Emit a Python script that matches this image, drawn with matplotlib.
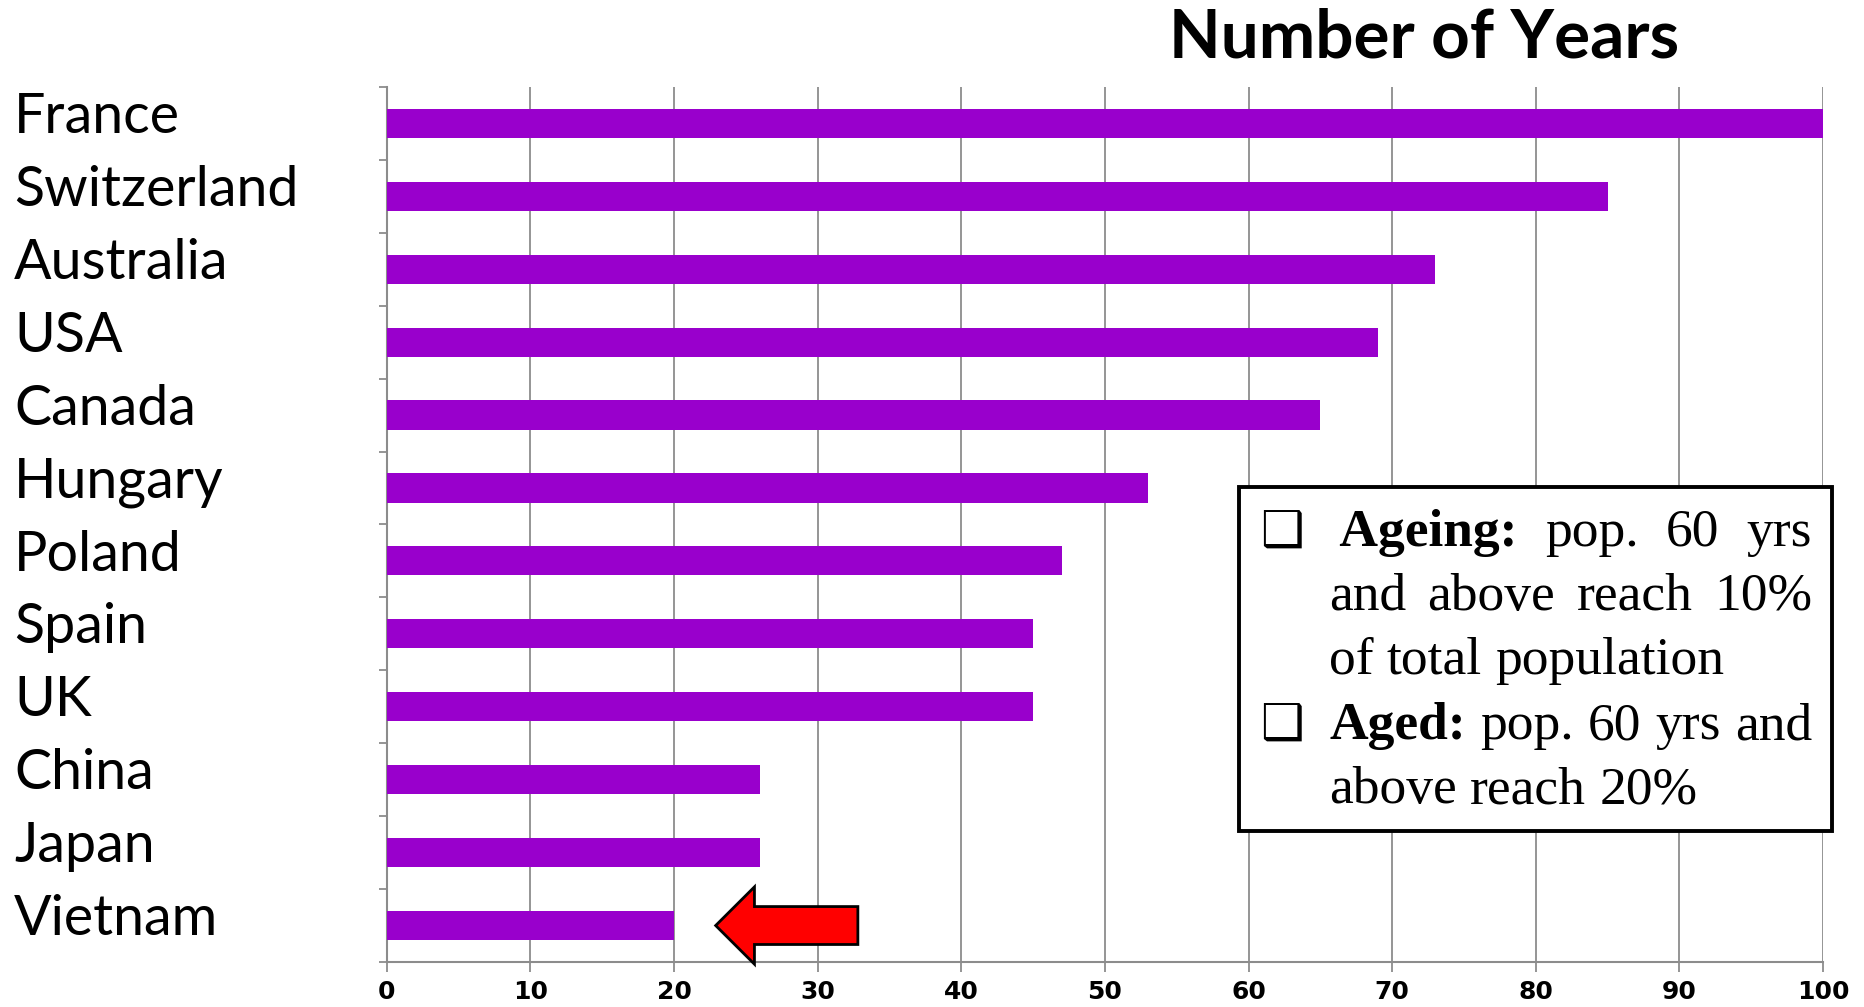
import numpy as np
import matplotlib
matplotlib.use("Agg")
import matplotlib.pyplot as plt
from matplotlib.patches import Polygon, Rectangle
from matplotlib.ticker import MultipleLocator, FixedLocator

countries = ["France", "Switzerland", "Australia", "USA", "Canada", "Hungary",
             "Poland", "Spain", "UK", "China", "Japan", "Vietnam"]
years = [100, 85, 73, 69, 65, 53, 47, 45, 45, 26, 26, 20]
x_ticks = [0, 10, 20, 30, 40, 50, 60, 70, 80, 90, 100]

title = "Number of Years"
note_lines = [
    # (pieces, justify, has_box)
    ([(" Ageing:", True), ("pop.", False), ("60", False), ("yrs", False)], True, True),
    ([("and", False), ("above", False), ("reach", False), ("10%", False)], True, False),
    ([("of", False), ("total", False), ("population", False)], False, False),
    ([("Aged:", True), ("pop.", False), ("60", False), ("yrs", False), ("and", False)], True, True),
    ([("above", False), ("reach", False), ("20%", False)], False, False),
]

BAR = "#9900cc"
GRID = "#8c8c8c"

W, H = 1864, 1007
fig = plt.figure(figsize=(W / 100, H / 100), dpi=100)
ax = fig.add_axes([0.2075, 0.0447, 0.7705, 0.869])

ypos = np.arange(len(countries))
ax.barh(ypos, years, height=0.4, color=BAR, zorder=3)

ax.set_xlim(0, 100)
ax.set_ylim(len(countries) - 0.5, -0.5)
ax.xaxis.set_major_locator(FixedLocator(x_ticks))
ax.set_xticklabels([str(t) for t in x_ticks], fontsize=18, fontweight="bold",
                   family="DejaVu Sans")
ax.grid(axis="x", color=GRID, lw=1.3, zorder=0)
ax.set_axisbelow(True)

ax.set_yticks([])
ax.yaxis.set_minor_locator(MultipleLocator(1, offset=0.5))
ax.tick_params(axis="y", which="minor", direction="out", length=6, color=GRID, width=1.3)
ax.tick_params(axis="x", which="major", direction="out", length=7, color=GRID, width=1.3, pad=6)
for s in ["top", "right"]:
    ax.spines[s].set_visible(False)
for s in ["left", "bottom"]:
    ax.spines[s].set_color(GRID)
    ax.spines[s].set_linewidth(1.5)

# country labels at the far left
trans = matplotlib.transforms.blended_transform_factory(fig.transFigure, ax.transData)
for i, c in enumerate(countries):
    ax.text(0.0075, i - 0.08, c, transform=trans, ha="left", va="center",
            fontsize=40, family="Lato", clip_on=False)

fig.text(0.764, 0.962, title, ha="center", va="center", fontsize=48.5,
         fontweight="bold", family="Lato")

# red arrow pointing at Vietnam
vy = len(countries) - 1
tip_x, head_x, tail_x = 22.9, 25.6, 32.8
head_h, shaft_h = 0.53, 0.26
arrow = Polygon([(tip_x, vy), (head_x, vy - head_h), (head_x, vy - shaft_h),
                 (tail_x, vy - shaft_h), (tail_x, vy + shaft_h),
                 (head_x, vy + shaft_h), (head_x, vy + head_h)],
                closed=True, facecolor="red", edgecolor="black", lw=2,
                zorder=5, clip_on=False)
ax.add_patch(arrow)

# note box
bx0, bx1, by0, by1 = 1239 / W, 1832 / W, 1 - 831 / H, 1 - 487 / H
fig.add_artist(Rectangle((bx0, by0), bx1 - bx0, by1 - by0, transform=fig.transFigure,
                         facecolor="white", edgecolor="black", lw=2.8, zorder=2))

renderer = fig.canvas.get_renderer()
text_x0, text_x1 = 1329, 1812
box_x = 1260
line_y = [533, 597, 661, 726, 790]
fs = 38.5
for (pieces, justify, has_box), yy in zip(note_lines, line_y):
    yf = 1 - yy / H
    if has_box:
        fig.text(box_x / W, yf, "\u2751", ha="left", va="center", fontsize=35,
                 family="DejaVu Sans", fontweight="bold", zorder=3)
    arts = []
    for word, bold in pieces:
        t = fig.text(0, yf, word, ha="left", va="center", fontsize=fs,
                     family="Liberation Serif",
                     fontweight="bold" if bold else "normal", zorder=3)
        arts.append(t)
    widths = [a.get_window_extent(renderer).width for a in arts]
    space = fs * 100 / 72 * 0.25
    if justify and len(arts) > 1:
        space = (text_x1 - text_x0 - sum(widths)) / (len(arts) - 1)
    x = text_x0
    for a, w in zip(arts, widths):
        a.set_x(x / W)
        x += w + space

fig.savefig("out.png", dpi=100, facecolor="white")
